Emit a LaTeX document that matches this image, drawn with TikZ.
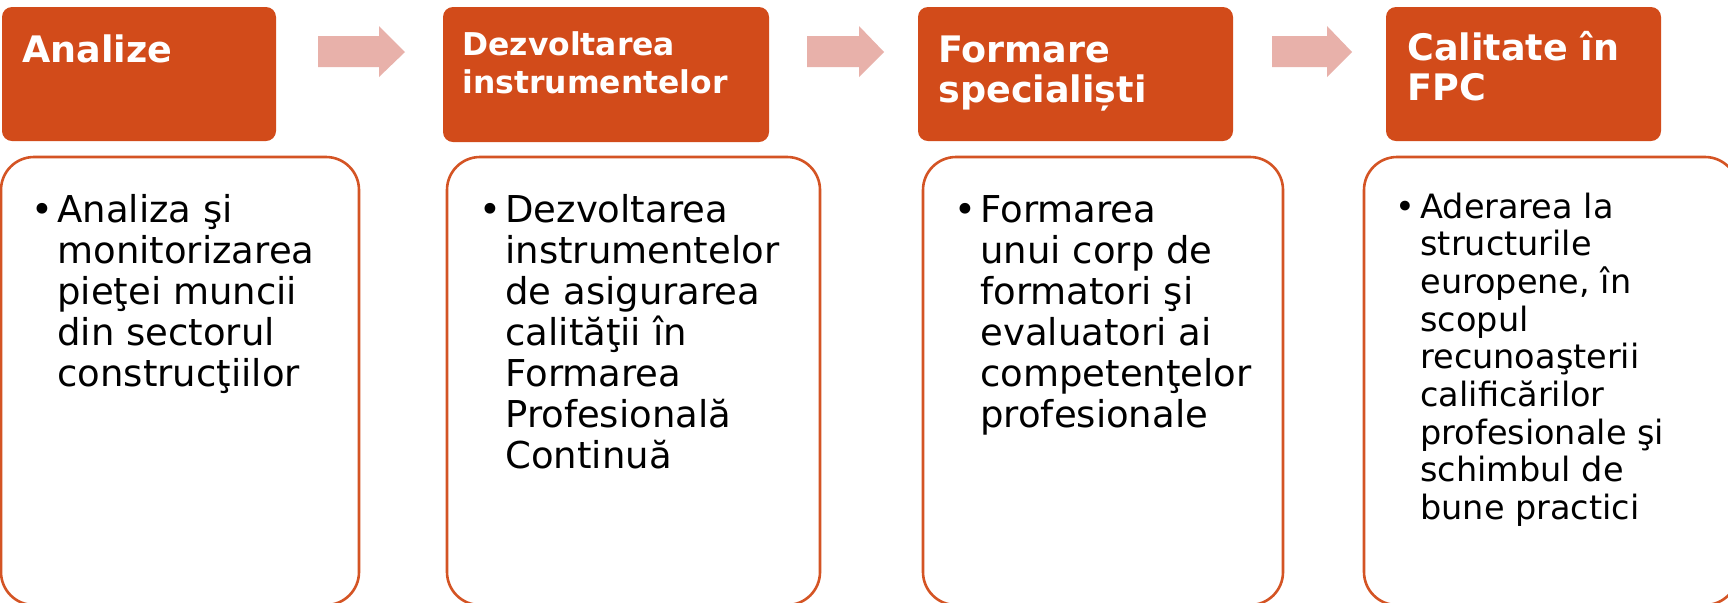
\documentclass[tikz,border=0pt]{standalone}
\usepackage{fontspec}
\setmainfont{DejaVu Sans}
\definecolor{hdr}{HTML}{D24B1A}
\definecolor{arr}{HTML}{E8B1AA}
\definecolor{brd}{HTML}{D45424}
\begin{document}
\begin{tikzpicture}[x=0.5pt,y=-0.5pt,
  hbox/.style={fill=hdr,rounded corners=5pt,inner sep=0pt,outer sep=0pt,minimum height=67pt},
  bbox/.style={draw=brd,line width=1.3pt,fill=white,rounded corners=16.5pt,inner sep=0pt,outer sep=0pt,minimum height=224pt},
  blockarrow/.style={fill=arr},
  htext/.style={anchor=base west,inner sep=0pt,text=white,font=\bfseries\fontsize{18.25}{20}\selectfont},
  htextsmall/.style={anchor=base west,inner sep=0pt,text=white,font=\bfseries\fontsize{15.7}{19}\selectfont},
  btext/.style={anchor=base west,inner sep=0pt,text=black,font=\fontsize{18.5}{20.5}\selectfont},
  btextsmall/.style={anchor=base west,inner sep=0pt,text=black,font=\fontsize{16.75}{18.85}\selectfont}]
\clip (0,0) rectangle (1728,602);
\fill[white] (0,0) rectangle (1728,602);
% header boxes
\node[hbox,minimum width=137pt] (h1) at (139,74) {};
\node[hbox,minimum width=163pt,minimum height=67.5pt] (h2) at (606,74.5) {};
\node[hbox,minimum width=157.5pt] (h3) at (1075.5,74) {};
\node[hbox,minimum width=137.5pt] (h4) at (1523.5,74) {};
% block arrows
\fill[blockarrow] (318,36) -- (379,36) -- (379,26) -- (405,52) -- (379,77) -- (379,67) -- (318,67) -- cycle;
\fill[blockarrow] (807,36) -- (859,36) -- (859,26) -- (884,52) -- (859,77) -- (859,67) -- (807,67) -- cycle;
\fill[blockarrow] (1272,36) -- (1327,36) -- (1327,26) -- (1352,52) -- (1327,77) -- (1327,67) -- (1272,67) -- cycle;
% body boxes
\node[bbox,minimum width=179pt] (b1) at (180,381) {};
\node[bbox,minimum width=186.5pt] (b2) at (633.5,381) {};
\node[bbox,minimum width=180pt] (b3) at (1103,381) {};
\node[bbox,minimum width=187pt] (b4) at (1551,381) {};
% header texts
\node[htext] (t1) at (22,62) {\parbox[t]{200pt}{Analize}};
\node[htextsmall] (t2) at (462,55) {\parbox[t]{200pt}{Dezvoltarea\\instrumentelor}};
\node[htext] (t3) at (938,62) {\parbox[t]{200pt}{Formare\\specialiști}};
\node[htext] (t4) at (1407,60) {\parbox[t]{200pt}{Calitate în\\FPC}};
% body texts
\node[btext] (c1) at (27,222) {\parbox[t]{200pt}{\hangindent=15pt\hangafter=1\makebox[15pt][c]{•}Analiza şi\\monitorizarea\\pieţei muncii\\din sectorul\\construcţiilor}};
\node[btext] (c2) at (475,222) {\parbox[t]{200pt}{\hangindent=15pt\hangafter=1\makebox[15pt][c]{•}Dezvoltarea\\instrumentelor\\de asigurarea\\calităţii în\\Formarea\\Profesională\\Continuă}};
\node[btext] (c3) at (950,222) {\parbox[t]{200pt}{\hangindent=15pt\hangafter=1\makebox[15pt][c]{•}Formarea\\unui corp de\\formatori şi\\evaluatori ai\\competenţelor\\profesionale}};
\node[btextsmall] (c4) at (1390,218) {\parbox[t]{200pt}{\hangindent=15pt\hangafter=1\makebox[15pt][c]{•}Aderarea la\\structurile\\europene, în\\scopul\\recunoaşterii\\calificărilor\\profesionale şi\\schimbul de\\bune practici}};
\end{tikzpicture}
\end{document}
